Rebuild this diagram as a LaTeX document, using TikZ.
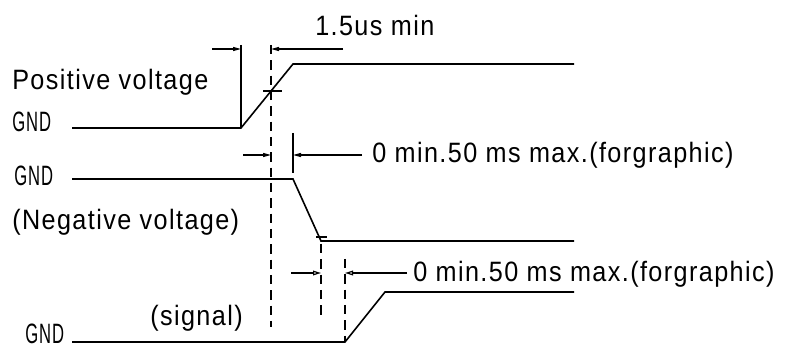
\documentclass[tikz,border=0pt]{standalone}
\usepackage{fontspec}
\usepackage{graphicx}
\setmainfont[FakeStretch=0.9,LetterSpace=5]{Liberation Sans}
\usetikzlibrary{arrows.meta}

\tikzset{
  wave/.style={line width=1.2pt},
  guide/.style={line width=1pt, dash pattern=on 7pt off 4.5pt},
  dimline/.style={line width=0.9pt},
  fillarr/.style={dimline, -{Triangle[length=6pt,width=3pt]}},
  openarr/.style={dimline, -{Triangle[open,length=6pt,width=3.5pt]}},
  lbl/.style={anchor=base west, inner sep=0pt, font=\fontsize{21}{25}\selectfont},
}
\newcommand{\gndtext}{\scalebox{0.66}[1]{GND}}

\begin{document}
\begin{tikzpicture}[x=0.75pt,y=0.75pt,yscale=-1,xscale=1]
\useasboundingbox (0,0) rectangle (790,345);

%Points of the three traces
\coordinate (p0) at (72,128);
\coordinate (p1) at (241,128);
\coordinate (p2) at (293,64);
\coordinate (p3) at (574,64);
\coordinate (n0) at (72,179);
\coordinate (n1) at (293,179);
\coordinate (n2) at (321,241);
\coordinate (n3) at (574,241);
\coordinate (s0) at (72,342);
\coordinate (s1) at (345,342);
\coordinate (s2) at (385,292);
\coordinate (s3) at (574,292);

%Traces
\draw [wave] (p0) -- (p1) -- (p2) -- (p3);
\draw [wave] (n0) -- (n1) -- (n2) -- (n3);
\draw [wave] (s0) -- (s1) -- (s2) -- (s3);

%Extension lines
\coordinate (e1t) at (241,45);
\coordinate (e2t) at (293,133);
\coordinate (e2b) at (293,173);
\draw [dimline] (e1t) -- (p1);
\draw [dimline] (e2t) -- (e2b);

%Dashed guides
\coordinate (g1t) at (271,45);
\coordinate (g1b) at (271,327);
\coordinate (g2t) at (321,244);
\coordinate (g2b) at (321,320);
\coordinate (g3t) at (345,259);
\draw [guide] (g1t) -- (g1b);
\draw [guide] (g2t) -- (g2b);
\draw [guide] (g3t) -- (s1);

%Ticks on the edges
\coordinate (t1a) at (263,91);
\coordinate (t1b) at (282,91);
\coordinate (t2a) at (316,237);
\coordinate (t2b) at (327,237);
\draw [dimline] (t1a) -- (t1b);
\draw [dimline] (t2a) -- (t2b);

%Dimension arrows
\coordinate (d1a) at (212,49);
\coordinate (d1b) at (241,49);
\coordinate (d1c) at (343,49);
\coordinate (d1d) at (271,49);
\draw [fillarr] (d1a) -- (d1b);
\draw [fillarr] (d1c) -- (d1d);
\coordinate (d2a) at (243,155);
\coordinate (d2b) at (271,155);
\coordinate (d2c) at (362,155);
\coordinate (d2d) at (293,155);
\draw [fillarr] (d2a) -- (d2b);
\draw [fillarr] (d2c) -- (d2d);
\coordinate (d3a) at (291,273);
\coordinate (d3b) at (321,273);
\coordinate (d3c) at (407,273);
\coordinate (d3d) at (345,273);
\draw [openarr] (d3a) -- (d3b);
\draw [openarr] (d3c) -- (d3d);

% Text Node
\node [lbl] (rise) at (315,36) {1.5us min};
% Text Node
\node [lbl] (posv) at (12,90) {Positive voltage};
% Text Node
\node [lbl] (gndp) at (12,132) {\gndtext};
% Text Node
\node [lbl] (delay1) at (372,163) {0 min.50 ms max.(forgraphic)};
% Text Node
\node [lbl] (gndn) at (14,186) {\gndtext};
% Text Node
\node [lbl] (negv) at (12,230) {(Negative voltage)};
% Text Node
\node [lbl] (delay2) at (413,282) {0 min.50 ms max.(forgraphic)};
% Text Node
\node [lbl] (sig) at (150,326) {(signal)};
% Text Node
\node [lbl] (gnds) at (25,344) {\gndtext};

\end{tikzpicture}
\end{document}
